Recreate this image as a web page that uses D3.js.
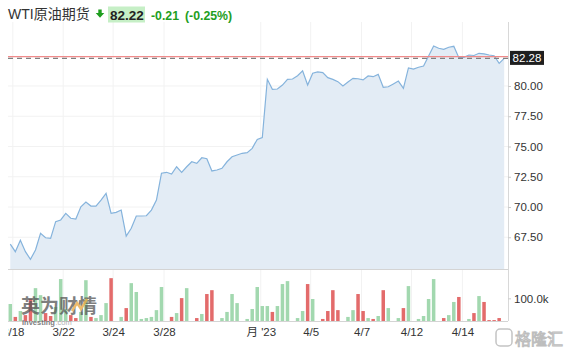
<!DOCTYPE html>
<html><head><meta charset="utf-8">
<script src="https://cdn.jsdelivr.net/npm/d3@7/dist/d3.min.js"></script>
<style>
html,body{margin:0;padding:0;background:#fff;}
svg{display:block;font-family:"Liberation Sans",Arial,"Noto Sans CJK SC",sans-serif;}
</style></head>
<body>
<svg id="c" width="570" height="356"></svg>
<script>
// ---- data ----
const title = "WTI原油期货";
const lastPrice = "82.22";
const change = "-0.21";
const changePct = "(-0.25%)";
const currentPrice = 82.28;
const prevClose = 82.43;
const prices = [66.94,66.31,67.25,66.31,65.68,66.45,67.83,67.46,67.41,68.79,
  68.93,69.48,69.07,69.01,70.02,70.41,70.08,70.08,70.58,71.13,
  69.48,69.56,69.75,67.60,68.24,69.26,69.26,69.28,69.75,70.58,
  72.79,72.87,72.73,73.33,72.87,73.33,73.74,73.61,74.07,73.99,
  72.98,73.06,73.20,73.74,74.15,74.30,74.44,74.49,74.85,75.59,
  75.73,80.55,79.72,79.75,80.08,80.55,80.58,80.85,81.26,80.08,
  81.05,81.16,81.10,80.69,80.55,80.36,80.00,80.33,80.63,80.60,
  80.50,80.83,80.77,80.96,79.89,79.94,80.17,80.41,79.81,81.49,
  81.40,81.55,81.65,82.48,83.31,83.12,83.03,83.20,83.28,82.34,
  82.37,82.56,82.52,82.70,82.66,82.56,82.50,81.87,82.28];
const volumes = [75,18,44,26,97,145,114,35,22,62,
  185,53,26,13,40,180,18,13,26,79,
  189,0,18,57,167,128,9,13,18,48,
  150,0,18,35,101,145,0,13,31,119,
  136,0,13,40,119,79,0,9,53,150,
  66,66,40,66,163,176,0,13,44,163,
  97,0,9,44,136,48,0,18,48,119,
  44,13,9,22,136,57,0,13,57,154,
  0,9,22,97,185,0,13,26,84,106,
  0,9,35,110,84,4,4,13,0];
const dirs = ["u","d","u","d","d","u","u","d","d","u",
  "u","u","d","d","u","u","d","u","u","u",
  "d","u","u","d","u","u","u","u","u","u",
  "u","u","d","u","d","u","u","d","u","d",
  "d","u","u","u","u","u","u","u","u","u",
  "u","u","d","u","u","u","u","u","u","d",
  "u","u","d","d","d","d","d","u","u","d",
  "d","u","d","u","d","u","u","u","d","u",
  "d","u","u","u","u","d","d","u","u","d",
  "u","u","d","u","d","d","d","d","u"];
const xTickPos = [0.5,10.5,20.4,30.5,49.7,59.6,69.7,79.6,89.7];
const xTickLabels = ["3/18","3/22","3/24","3/28","月 '23","4/5","4/7","4/12","4/14"];
const priceTicks = [67.5,70,72.5,75,77.5,80];
const volTicks = [100];

// ---- layout ----
const L = 8, R = 508, PT = 42, PB = 269, VT = 270, VB = 321;
const FONT = '"Liberation Sans",Arial,"Noto Sans CJK SC",sans-serif';
const svg = d3.select("#c");

const x = d3.scaleLinear().domain([0, prices.length-1]).range([10.3, 504.2]);
const y = d3.scaleLinear().domain([64.88, 83.635]).range([PB, PT]);
const yv = d3.scaleLinear().domain([0, 225]).range([VB, VT]);

const defs = svg.append("defs");
defs.append("clipPath").attr("id","plot")
  .append("rect").attr("x",L).attr("y",PT).attr("width",R-L).attr("height",VB-PT);
defs.append("clipPath").attr("id","xlab")
  .append("rect").attr("x",L).attr("y",0).attr("width",R-L+10).attr("height",30);

// grid
const grid = svg.append("g");
grid.selectAll("line.h").data(priceTicks).join("line")
  .attr("x1",L).attr("x2",R).attr("y1",d=>y(d)).attr("y2",d=>y(d))
  .attr("stroke","#f2f2f2");
grid.selectAll("line.v").data(xTickPos).join("line")
  .attr("x1",d=>x(d)).attr("x2",d=>x(d)).attr("y1",PT-20).attr("y2",VB)
  .attr("stroke","#f2f2f2");

const plot = svg.append("g").attr("clip-path","url(#plot)");
const idx = d3.range(prices.length);
plot.append("path").datum(idx)
  .attr("d", d3.area().x(i=>x(i)).y0(PB).y1(i=>y(prices[i])))
  .attr("fill","#e3ecf5");
plot.append("path").datum(idx)
  .attr("d", d3.line().x(i=>x(i)).y(i=>y(prices[i])))
  .attr("fill","none").attr("stroke","#85b3dc").attr("stroke-width",1.2);

// volume bars
plot.selectAll("rect.v").data(idx).join("rect")
  .attr("x",i=>x(i)-1.75).attr("width",3.5)
  .attr("y",i=>yv(volumes[i])).attr("height",i=>VB-yv(volumes[i]))
  .attr("fill",i=>dirs[i]==="d" ? "#e36b6b" : "#a2d8af");

// borders
svg.append("line").attr("x1",L).attr("x2",R).attr("y1",PB+0.5).attr("y2",PB+0.5).attr("stroke","#d4d4d4");
svg.append("line").attr("x1",L).attr("x2",R).attr("y1",VB+0.5).attr("y2",VB+0.5).attr("stroke","#d4d4d4");
svg.append("line").attr("x1",R+0.5).attr("x2",R+0.5).attr("y1",PT-20).attr("y2",VB).attr("stroke","#d8d8d8");

// reference lines
svg.append("line").attr("x1",L).attr("x2",R).attr("y1",y(prevClose)).attr("y2",y(prevClose))
  .attr("stroke","#f08a8a").attr("stroke-width",1.2);
svg.append("line").attr("x1",L).attr("x2",R).attr("y1",y(currentPrice)).attr("y2",y(currentPrice))
  .attr("stroke","#808080").attr("stroke-width",1.2).attr("stroke-dasharray","5,4");

// axes
const ya = svg.append("g").attr("transform",`translate(${R},0)`)
  .call(d3.axisRight(y).tickValues(priceTicks).tickFormat(d3.format(".2f")).tickSize(3).tickPadding(3));
const va = svg.append("g").attr("transform",`translate(${R},0)`)
  .call(d3.axisRight(yv).tickValues(volTicks).tickFormat(d=>d.toFixed(1)+"k").tickSize(3).tickPadding(3));
const xa = svg.append("g").attr("transform",`translate(0,${VB})`).attr("clip-path","url(#xlab)")
  .call(d3.axisBottom(x).tickValues(xTickPos).tickFormat((d,i)=>xTickLabels[i]).tickSize(0).tickPadding(7));
[ya,va,xa].forEach(a=>{
  a.select(".domain").remove();
  a.selectAll(".tick line").attr("stroke","#ccc");
  a.selectAll("text").attr("fill","#333").attr("font-size","11.5px").attr("font-family",FONT);
});

// current price badge
const by = y(currentPrice);
svg.append("rect").attr("x",510).attr("y",by-7.5).attr("width",34).attr("height",14).attr("fill","#1f1f1f");
svg.append("text").attr("x",527).attr("y",by).attr("dy","0.35em").attr("text-anchor","middle")
  .attr("fill","#fff").attr("font-size","11.5px").text(d3.format(".2f")(currentPrice));

// header
svg.append("text").attr("x",8).attr("y",19).attr("font-size","14px").attr("fill","#333").text(title);
svg.append("path").attr("d","M98.3,9.5 h3.4 v3.6 h2.6 l-4.3,4.6 l-4.3,-4.6 h2.6 z").attr("fill","#1e9e1e");
svg.append("rect").attr("x",108).attr("y",6.5).attr("width",37).attr("height",16).attr("fill","#c6efc6");
svg.append("text").attr("x",110).attr("y",19.5).attr("font-size","13.5px").attr("font-weight","bold").attr("fill","#222").text(lastPrice);
svg.append("text").attr("x",151).attr("y",19.5).attr("font-size","12.3px").attr("font-weight","bold").attr("fill","#1e9e1e").text(change);
svg.append("text").attr("x",185).attr("y",19.5).attr("font-size","12.3px").attr("font-weight","bold").attr("fill","#1e9e1e").text(changePct);

// watermarks
const wm = svg.append("g").attr("opacity",0.75);
wm.append("text").attr("x",21).attr("y",313).attr("font-size","19px").attr("font-weight","bold")
  .attr("fill","#555").attr("font-family",'"Noto Sans CJK SC",sans-serif').text("英为财情");
wm.append("path").attr("d","M72,311 l5,-8 l4,6 l6,-10").attr("fill","none").attr("stroke","#e8a33a").attr("stroke-width",2.5);
const inv = wm.append("text").attr("x",22).attr("y",325).attr("font-size","7.5px").attr("font-weight","bold").attr("fill","#555").text("Investing");
const invW = inv.node().getComputedTextLength();
wm.append("text").attr("x",22+invW+0.5).attr("y",325).attr("font-size","7.5px").attr("fill","#999").text(".com");

const gl = svg.append("g");
gl.append("rect").attr("x",496).attr("y",329).attr("width",16).attr("height",17).attr("rx",4)
  .attr("fill","#fff").attr("fill-opacity",0.8).attr("stroke","#c4c4c4").attr("stroke-width",1.5);
gl.append("text").attr("x",515).attr("y",345).attr("font-size","16px")
  .attr("font-family",'"Noto Sans CJK SC",sans-serif').attr("fill","#fff").attr("stroke","#bdbdbd").attr("stroke-width",1)
  .text("格隆汇");
</script>
</body></html>
